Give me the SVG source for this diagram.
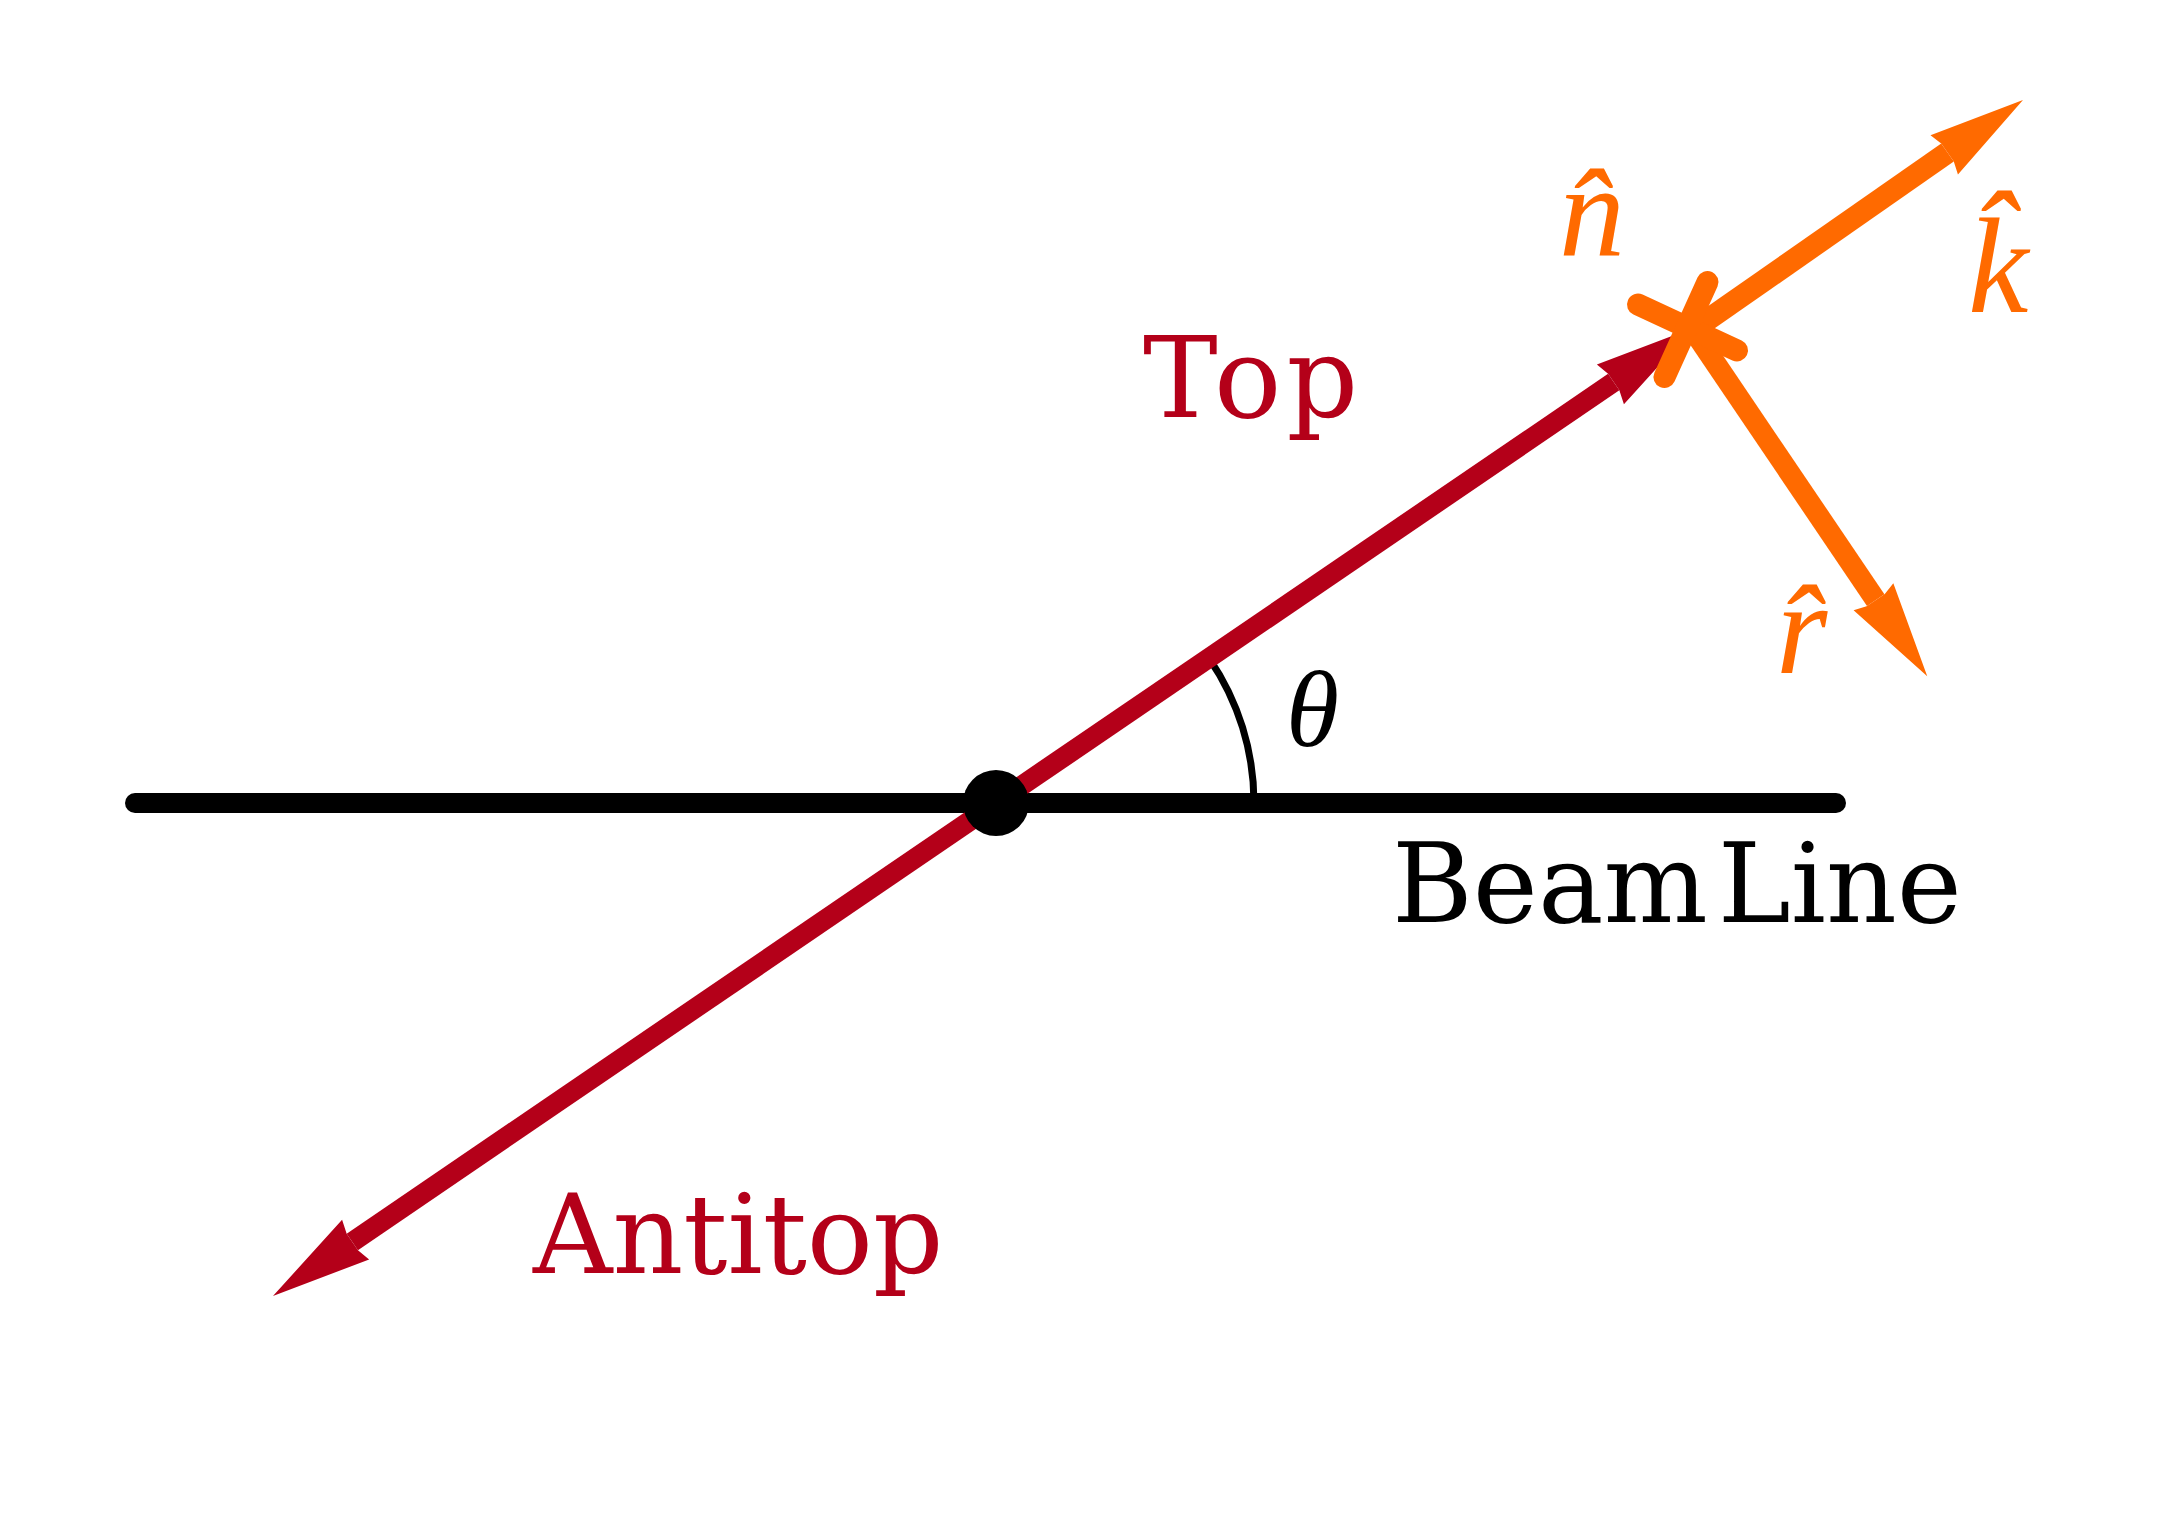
<svg xmlns="http://www.w3.org/2000/svg" width="2168" height="1516" viewBox="0 0 2168 1516">
<style>
.lbl{font-family:"DejaVu Serif","Liberation Serif",serif;font-size:110px}
.math{font-family:"Liberation Serif","DejaVu Serif",serif;font-style:italic}
.red{fill:#B40019}
.orange{fill:#FF6A00}
</style>
<defs>
<marker id="headRed" markerUnits="userSpaceOnUse" orient="auto-start-reverse" refX="0" refY="0" markerWidth="130" markerHeight="60" viewBox="-10 -30 120 60" overflow="visible">
<path d="M96,0 L-4,-24 L0,-10 L0,10 L-4,24 Z" fill="#B40019"/>
</marker>
<marker id="headOrange" markerUnits="userSpaceOnUse" orient="auto" refX="0" refY="0" markerWidth="120" markerHeight="60" viewBox="-10 -30 115 60" overflow="visible">
<path d="M92,0 L-4,-24 L0,-11 L0,11 L-4,24 Z" fill="#FF6A00"/>
</marker>
</defs>
<rect width="2168" height="1516" fill="#fff"/>
<g id="connectors">
<path id="theta-arc" d="M1254,803 A256,256 0 0 0 1209.2,658.4" fill="none" stroke="#000" stroke-width="7"/>
<line id="beam-line" x1="135" y1="803" x2="1836" y2="803" stroke="#000" stroke-width="20" stroke-linecap="round"/>
<line id="top-antitop" x1="352.3" y1="1241.9" x2="1613.7" y2="382.1" stroke="#B40019" stroke-width="20" marker-start="url(#headRed)" marker-end="url(#headRed)"/>
<line id="k-axis" x1="1693" y1="330" x2="1947.5" y2="152.6" stroke="#FF6A00" stroke-width="22" marker-end="url(#headOrange)"/>
<line id="r-axis" x1="1693" y1="330" x2="1875.7" y2="600.1" stroke="#FF6A00" stroke-width="21" marker-end="url(#headOrange)"/>
<line id="n-mark-a" x1="1638" y1="304.6" x2="1737" y2="350.4" stroke="#FF6A00" stroke-width="22" stroke-linecap="round"/>
<line id="n-mark-b" x1="1707.5" y1="282" x2="1664.5" y2="377" stroke="#FF6A00" stroke-width="22" stroke-linecap="round"/>
</g>
<g id="vertex"><circle cx="996" cy="803" r="33" fill="#000"/></g>
<g id="label-top"><text class="lbl red" x="1143" y="417" style="font-size:112px" letter-spacing="5">Top</text></g>
<g id="label-antitop"><text class="lbl red" x="533" y="1273">Antitop</text></g>
<g id="label-beam"><text class="lbl" x="1392" y="922" fill="#000" word-spacing="-25">Beam Line</text></g>
<g id="label-theta"><text class="math" x="1286" y="746" font-size="108" fill="#000">θ</text></g>
<g id="label-n"><text class="math orange" x="1559" y="256" font-size="132">n̂</text></g>
<g id="label-k"><text class="math orange" x="1968" y="312" font-size="136">k̂</text></g>
<g id="label-r"><text class="math orange" x="1776" y="673" font-size="132">r̂</text></g>
</svg>
